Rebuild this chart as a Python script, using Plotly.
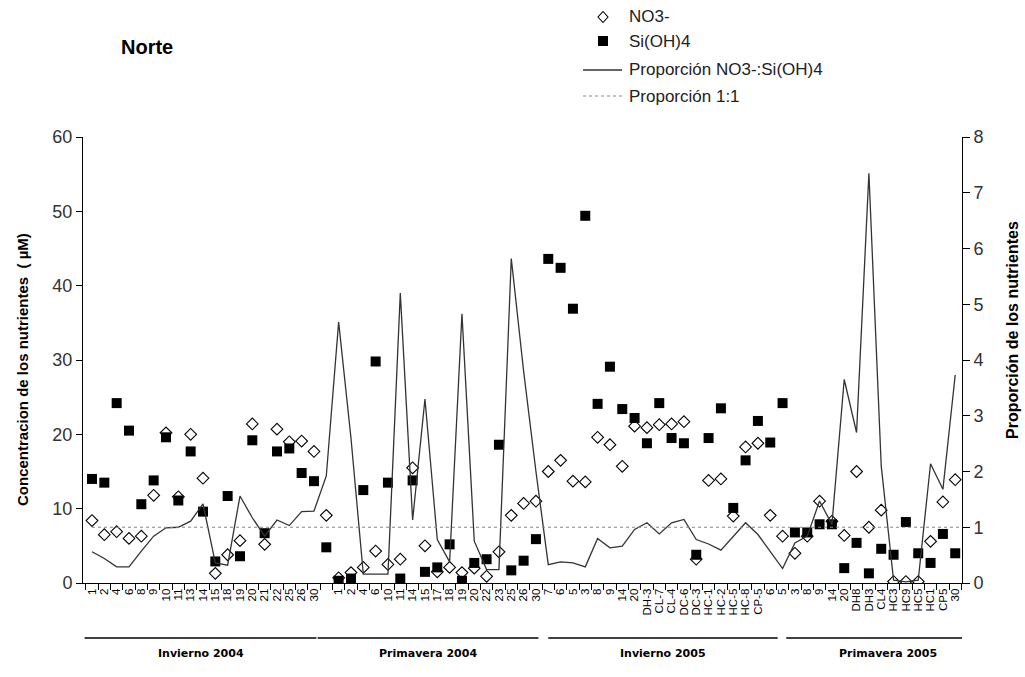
import plotly.graph_objects as go

# ---------------- data ----------------
lab_inv04 = ["1","2","4","6","8","9","10","11","13","14","15","18","19","20","21","22","25","26","30"]
lab_pri04 = ["","1","2","4","6","10","11","14","15","17","18","19","20","22","23","25","26","30"]
lab_inv05 = ["7","6","5","3","8","9","14","20","DH-3","CL-7","CL-4","DC-6","DC-3","HC-1","HC-2","HC-5","HC-8","CP-5","6"]
lab_pri05 = ["5","3","8","9","14","20","DH8","DH3","CL4","HC3","HC9","HC5","HC1","CP5","30"]
groups = ["Invierno 2004", "Primavera 2004", "Invierno 2005", "Primavera 2005"]
series_names = ["NO3-", "Si(OH)4", "Proporción NO3-:Si(OH)4", "Proporción 1:1"]

no3 = [8.4, 6.5, 6.9, 6.0, 6.3, 11.8, 20.2, 11.6, 20.0, 14.1, 1.3, 3.8, 5.7, 21.4, 5.2, 20.7, 19.0, 19.1, 17.7,
       9.1, 0.7, 1.4, 2.1, 4.3, 2.5, 3.2, 15.5, 5.0, 1.5, 2.1, 1.4, 2.0, 0.9, 4.2, 9.1, 10.7, 11.0,
       15.0, 16.5, 13.7, 13.6, 19.6, 18.6, 15.7, 21.1, 20.9, 21.3, 21.4, 21.7, 3.2, 13.8, 14.0, 9.0, 18.3, 18.8, 9.1,
       6.3, 4.0, 6.3, 11.0, 8.3, 6.4, 15.0, 7.5, 9.8, 0.2, 0.2, 0.2, 5.6, 10.9, 13.9]
sioh4 = [14.0, 13.5, 24.2, 20.5, 10.6, 13.8, 19.6, 11.1, 17.7, 9.6, 2.9, 11.7, 3.6, 19.2, 6.7, 17.7, 18.1, 14.8, 13.7,
         4.8, 0.3, 0.6, 12.5, 29.8, 13.5, 0.6, 13.8, 1.5, 2.1, 5.2, 0.3, 2.7, 3.2, 18.6, 1.7, 3.0, 5.9,
         43.6, 42.4, 36.9, 49.4, 24.1, 29.1, 23.4, 22.2, 18.8, 24.2, 19.5, 18.8, 3.8, 19.5, 23.5, 10.1, 16.5, 21.8, 18.9,
         24.2, 6.8, 6.8, 7.9, 7.9, 2.0, 5.4, 1.3, 4.6, 3.8, 8.2, 4.0, 2.7, 6.6, 4.0]
ratio = [0.56, 0.44, 0.29, 0.29, 0.57, 0.84, 0.99, 1.0, 1.11, 1.42, 0.36, 0.32, 1.56, 1.17, 0.84, 1.13, 1.03, 1.28, 1.29,
         1.92, 4.68, 2.6, 0.16, 0.16, 0.16, 5.2, 1.13, 3.3, 0.78, 0.38, 4.83, 0.75, 0.24, 0.24, 5.82, 3.8, 2.0,
         0.33, 0.38, 0.36, 0.29, 0.80, 0.63, 0.66, 0.96, 1.08, 0.88, 1.08, 1.14, 0.78, 0.70, 0.59, 0.84, 1.08, 0.87, 0.57,
         0.26, 0.72, 0.84, 1.47, 1.05, 3.65, 2.7, 7.35, 2.1, 0.05, 0.02, 0.05, 2.14, 1.68, 3.73]
ratio_ref = 1.0

labels = lab_inv04 + lab_pri04 + lab_inv05 + lab_pri05
xs = list(range(len(labels)))
group_sizes = [len(lab_inv04), len(lab_pri04), len(lab_inv05), len(lab_pri05)]

FONT = "Liberation Sans, Arial, sans-serif"
W, H = 1025, 677
ML, MR, MT, MB = 83, 63, 137, 94
PW, PH = W - ML - MR, H - MT - MB


def px(xp):
    return (xp - ML) / PW


def py(yp):
    return (H - MB - yp) / PH


fig = go.Figure()
fig.add_trace(go.Scatter(x=xs, y=no3, mode="markers", name=series_names[0],
                         marker=dict(symbol="diamond-open", size=9, color="black", line=dict(width=1.1, color="black"))))
fig.add_trace(go.Scatter(x=xs, y=sioh4, mode="markers", name=series_names[1],
                         marker=dict(symbol="square", size=10, color="black")))
fig.add_trace(go.Scatter(x=xs, y=ratio, mode="lines", name=series_names[2],
                         line=dict(color="#333333", width=1.3), yaxis="y2"))
fig.add_trace(go.Scatter(x=[xs[0], xs[-1] + 0.55], y=[ratio_ref, ratio_ref], mode="lines", name=series_names[3],
                         line=dict(color="#888888", width=1.2, dash="dot"), yaxis="y2"))

shapes = []
annotations = []

# group lines and labels below the axis
start = 0
line_offsets = [(-0.6, 0.2), (-0.7, 0.2), (-0.0, 0.6), (0.3, 2.8)]
for g, n, (a, b) in zip(groups, group_sizes, line_offsets):
    x0 = start + a
    x1 = start + n - 1 + b
    shapes.append(dict(type="line", xref="x", yref="paper", x0=x0, x1=x1, y0=py(638), y1=py(638),
                       line=dict(color="black", width=1.3)))
    annotations.append(dict(text="<b>%s</b>" % g, xref="x", yref="paper", x=(x0 + x1) / 2, y=py(662),
                            showarrow=False, font=dict(family="DejaVu Sans, sans-serif", size=11, color="black")))
    start += n

# manual legend
leg_y = [17, 41, 70, 96]
sx = 603
shapes.append(dict(type="path", xref="paper", yref="paper",
                   path="M %f %f L %f %f L %f %f L %f %f Z" % (px(sx), py(leg_y[0] - 5.5), px(sx + 5), py(leg_y[0]),
                                                              px(sx), py(leg_y[0] + 5.5), px(sx - 5), py(leg_y[0])),
                   line=dict(color="black", width=1.1), fillcolor="white"))
shapes.append(dict(type="rect", xref="paper", yref="paper", x0=px(sx - 5), x1=px(sx + 5),
                   y0=py(leg_y[1] + 5), y1=py(leg_y[1] - 5), line=dict(width=0), fillcolor="black"))
shapes.append(dict(type="line", xref="paper", yref="paper", x0=px(583), x1=px(622), y0=py(leg_y[2]), y1=py(leg_y[2]),
                   line=dict(color="#333333", width=1.3)))
shapes.append(dict(type="line", xref="paper", yref="paper", x0=px(583), x1=px(622), y0=py(leg_y[3]), y1=py(leg_y[3]),
                   line=dict(color="#888888", width=1.2, dash="dot")))
for name, yy in zip(series_names, leg_y):
    annotations.append(dict(text=name, xref="paper", yref="paper", x=px(627), y=py(yy), xanchor="left",
                            yanchor="middle", showarrow=False, font=dict(family=FONT, size=17, color="#222222")))

annotations.append(dict(text="<b>Norte</b>", xref="paper", yref="paper", x=px(119), y=py(47),
                        xanchor="left", yanchor="middle", showarrow=False,
                        font=dict(family=FONT, size=20, color="black")))
annotations.append(dict(text="<b>Concentracion de los nutrientes  ( µM)</b>", xref="paper", yref="paper",
                        x=px(22), y=py(370), textangle=-90, showarrow=False,
                        xanchor="center", yanchor="middle", font=dict(family=FONT, size=15, color="black")))
annotations.append(dict(text="<b>Proporción de los nutrientes</b>", xref="paper", yref="paper",
                        x=px(1012), y=py(330), textangle=-90, showarrow=False,
                        xanchor="center", yanchor="middle", font=dict(family=FONT, size=16, color="black")))

fig.update_layout(
    width=W, height=H,
    margin=dict(l=ML, r=MR, t=MT, b=MB),
    paper_bgcolor="white", plot_bgcolor="white",
    font=dict(family=FONT, color="black"),
    showlegend=False,
    xaxis=dict(range=[-0.73, 70.55], tickmode="array", tickvals=xs, ticktext=labels,
               tickangle=-90, ticks="", showline=True, linecolor="black", linewidth=1,
               showgrid=False, zeroline=False, tickfont=dict(family=FONT, size=11.5, color="black"),
               minor=dict(tick0=-0.5, dtick=1, ticks="outside", ticklen=6, tickcolor="black", showgrid=False)),
    yaxis=dict(range=[0, 60], dtick=10, showline=True, linecolor="black", linewidth=1,
               ticks="outside", ticklen=6, tickcolor="black", showgrid=False, zeroline=False,
               tickfont=dict(family=FONT, size=18, color="#333333")),
    yaxis2=dict(range=[0, 8], dtick=1, overlaying="y", side="right", showline=True, linecolor="black",
                linewidth=1, ticks="outside", ticklen=7, tickcolor="black", showgrid=False, zeroline=False,
                tickfont=dict(family=FONT, size=18, color="#333333")),
    shapes=shapes, annotations=annotations,
)

fig.write_html("out.html")
